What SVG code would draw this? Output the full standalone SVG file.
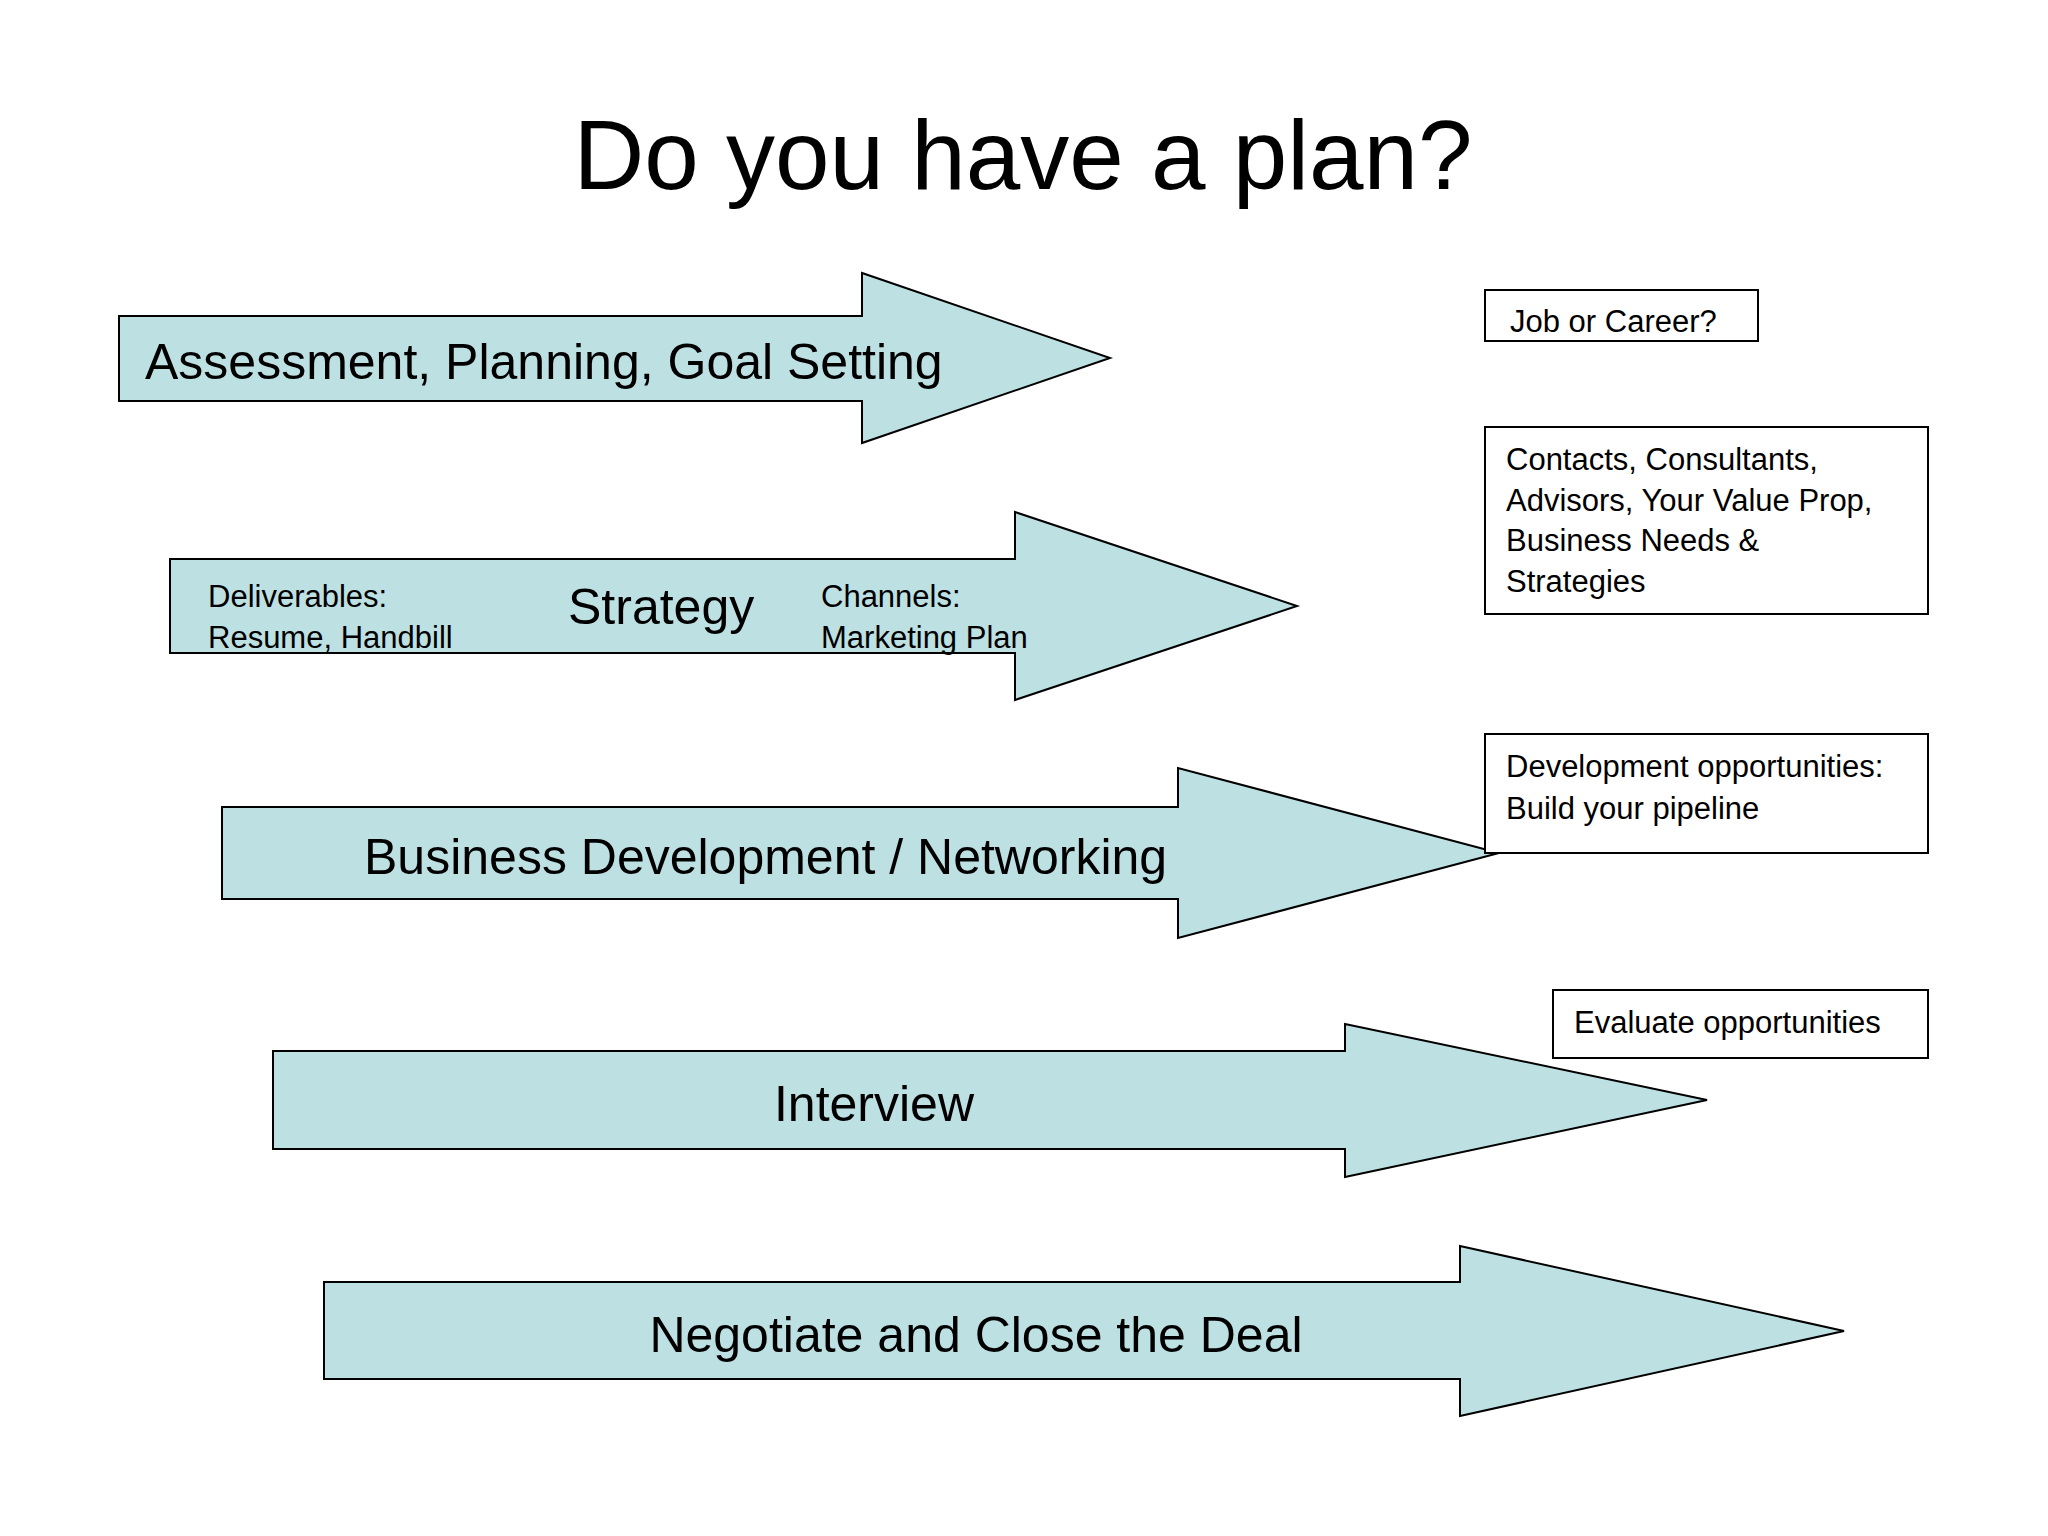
<svg xmlns="http://www.w3.org/2000/svg" width="2048" height="1536" viewBox="0 0 2048 1536">
<style>
.arr{fill:#bde0e3;stroke:#000;stroke-width:2}
.box{fill:#fff;stroke:#000;stroke-width:2}
text{font-family:"Liberation Sans",Arial,sans-serif;fill:#000}
.big{font-size:50px}
.sm{font-size:31px}
.bx{font-size:31px}
</style>
<rect width="2048" height="1536" fill="#fff"/>
<text x="1023" y="189" font-size="98" text-anchor="middle">Do you have a plan?</text>
<g id="arrow1">
<polygon class="arr" points="119,316 862,316 862,273 1110,358 862,443 862,401 119,401"/>
<text class="big" x="145" y="379">Assessment, Planning, Goal Setting</text>
</g>
<g id="arrow2">
<polygon class="arr" points="170,559 1015,559 1015,512 1297,606 1015,700 1015,653 170,653"/>
<text class="sm" x="208" y="607">Deliverables:</text>
<text class="sm" x="208" y="648">Resume, Handbill</text>
<text class="big" x="568" y="624">Strategy</text>
<text class="sm" x="821" y="607">Channels:</text>
<text class="sm" x="821" y="648">Marketing Plan</text>
</g>
<g id="arrow3">
<polygon class="arr" points="222,807 1178,807 1178,768 1499,853 1178,938 1178,899 222,899"/>
<text class="big" x="364" y="874">Business Development / Networking</text>
</g>
<g id="arrow4">
<polygon class="arr" points="273,1051 1345,1051 1345,1024 1707,1100 1345,1177 1345,1149 273,1149"/>
<text class="big" x="874" y="1121" text-anchor="middle">Interview</text>
</g>
<g id="arrow5">
<polygon class="arr" points="324,1282 1460,1282 1460,1246 1844,1331 1460,1416 1460,1379 324,1379"/>
<text class="big" x="976" y="1352" text-anchor="middle">Negotiate and Close the Deal</text>
</g>
<g id="box1">
<rect class="box" x="1485" y="290" width="273" height="51"/>
<text class="bx" x="1510" y="332">Job or Career?</text>
</g>
<g id="box2">
<rect class="box" x="1485" y="427" width="443" height="187"/>
<text class="bx" x="1506" y="470">Contacts, Consultants,</text>
<text class="bx" x="1506" y="511">Advisors, Your Value Prop,</text>
<text class="bx" x="1506" y="551">Business Needs &amp;</text>
<text class="bx" x="1506" y="592">Strategies</text>
</g>
<g id="box3">
<rect class="box" x="1485" y="734" width="443" height="119"/>
<text class="bx" x="1506" y="777">Development opportunities:</text>
<text class="bx" x="1506" y="819">Build your pipeline</text>
</g>
<g id="box4">
<rect class="box" x="1553" y="990" width="375" height="68"/>
<text class="bx" x="1574" y="1033">Evaluate opportunities</text>
</g>
<g id="connectors"/>
</svg>
